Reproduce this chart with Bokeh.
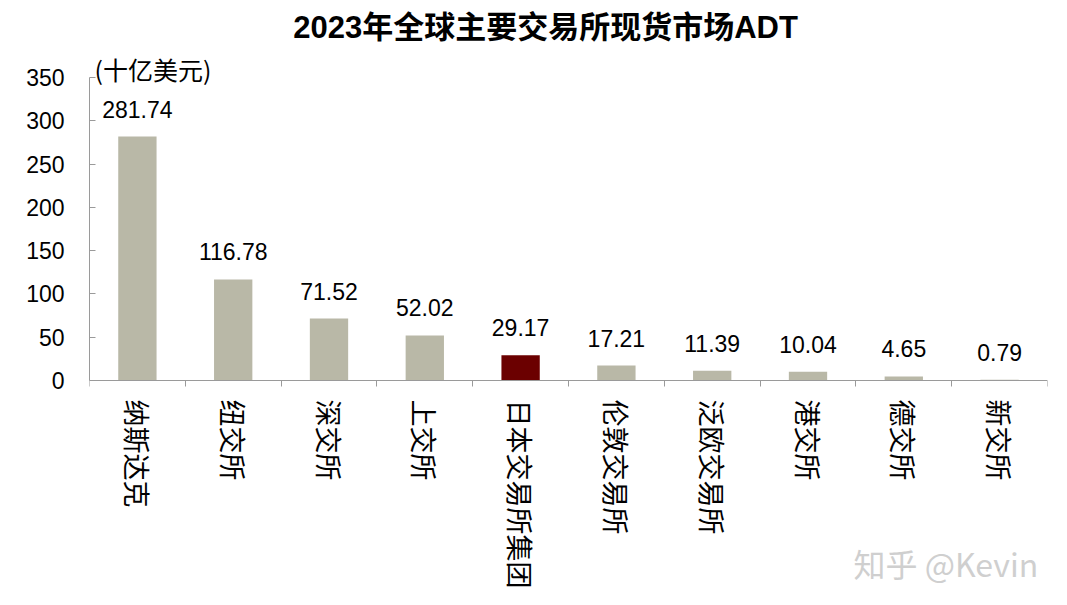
from bokeh.plotting import figure
from bokeh.models import ColumnDataSource, LabelSet, Label, Range1d, FixedTicker
from bokeh.core.properties import value
from bokeh.embed import file_html
from bokeh.resources import INLINE

title_text = "2023年全球主要交易所现货市场ADT"
unit_text = "(十亿美元)"
watermark = "知乎 @Kevin"
categories = ["纳斯达克", "纽交所", "深交所", "上交所", "日本交易所集团",
              "伦敦交易所", "泛欧交易所", "港交所", "德交所", "新交所"]
values = [281.74, 116.78, 71.52, 52.02, 29.17, 17.21, 11.39, 10.04, 4.65, 0.79]
highlight = "日本交易所集团"
y_ticks = [0, 50, 100, 150, 200, 250, 300, 350]
y_max = 350

BASE = "#b9b8a7"
HL = "#6b0000"
AXIS = "#9a9a9a"
LATIN = "'Liberation Sans', 'Noto Sans CJK SC'"
CJK = "'Noto Sans CJK SC', 'Liberation Sans'"

# layout in pixels
W, H = 1059, 595
LEFT, RIGHT = 89, 1047
TOP_PX, ZERO_PX = 77, 380          # pixel rows of y_max and 0
k = (ZERO_PX - TOP_PX) / y_max      # px per unit
y_end = y_max + TOP_PX / k
y_start = -(H - ZERO_PX) / k
xw = (RIGHT - LEFT)

n = len(categories)
xs = [i + 0.5 for i in range(n)]
colors = [HL if c == highlight else BASE for c in categories]
src = ColumnDataSource(dict(x=xs, top=values, color=colors,
                            label=[f"{v:.2f}" for v in values]))

p = figure(width=W, height=H, output_backend="svg", toolbar_location=None,
           x_range=Range1d(0, n), y_range=Range1d(y_start, y_end),
           min_border_left=LEFT, min_border_right=W - RIGHT,
           min_border_top=0, min_border_bottom=0)
p.outline_line_color = None
p.xgrid.visible = False
p.ygrid.visible = False
p.background_fill_color = "white"

p.vbar(x="x", top="top", bottom=0, width=0.4, color="color", source=src, line_color=None)

p.add_layout(LabelSet(x="x", y="top", text="label", source=src, text_align="center",
                      text_baseline="alphabetic", y_offset=19, text_font=value("Liberation Sans"),
                      text_font_size=value("23px"), text_color=value("black")))

# y axis
ya = p.yaxis[0]
ya.ticker = FixedTicker(ticks=y_ticks)
ya.bounds = (0, y_max)
ya.axis_line_color = AXIS
ya.major_tick_line_color = AXIS
ya.major_tick_out = 0
ya.major_tick_in = 6
ya.minor_tick_line_color = None
ya.major_label_text_font = LATIN
ya.major_label_text_font_size = "23px"
ya.major_label_text_color = "black"
ya.major_label_standoff = 25

# x axis drawn at y = 0 inside the frame
xa = p.xaxis[0]
xa.fixed_location = 0
xa.ticker = FixedTicker(ticks=xs, minor_ticks=list(range(n + 1)))
xa.major_label_overrides = {x: c for x, c in zip(xs, categories)}
xa.axis_line_color = AXIS
xa.major_tick_line_color = None
xa.major_tick_out = 0
xa.major_tick_in = 0
xa.minor_tick_line_color = AXIS
xa.minor_tick_out = 6
xa.minor_tick_in = 0
xa.major_label_orientation = "vertical"
xa.major_label_text_font = CJK
xa.major_label_text_font_size = "27px"
xa.major_label_text_color = "black"
xa.major_label_standoff = 13

def px_to_x(px):
    return (px - LEFT) / xw * n

def px_to_y(py):
    return (ZERO_PX - py) / k

p.add_layout(Label(x=px_to_x(545), y=px_to_y(27), text=title_text, text_align="center",
                   text_baseline="middle", text_font=LATIN, text_font_style="bold",
                   text_font_size="31px", text_color="black"))
p.add_layout(Label(x=px_to_x(94), y=px_to_y(68), text=unit_text, text_align="left",
                   text_baseline="middle", text_font=CJK,
                   text_font_size="25px", text_color="black"))
p.add_layout(Label(x=px_to_x(853), y=px_to_y(562), text=watermark, text_align="left",
                   text_baseline="middle", text_font=CJK,
                   text_font_size="32px", text_color="#cfcfcf"))

open("out.html", "w").write(file_html(p, INLINE))
